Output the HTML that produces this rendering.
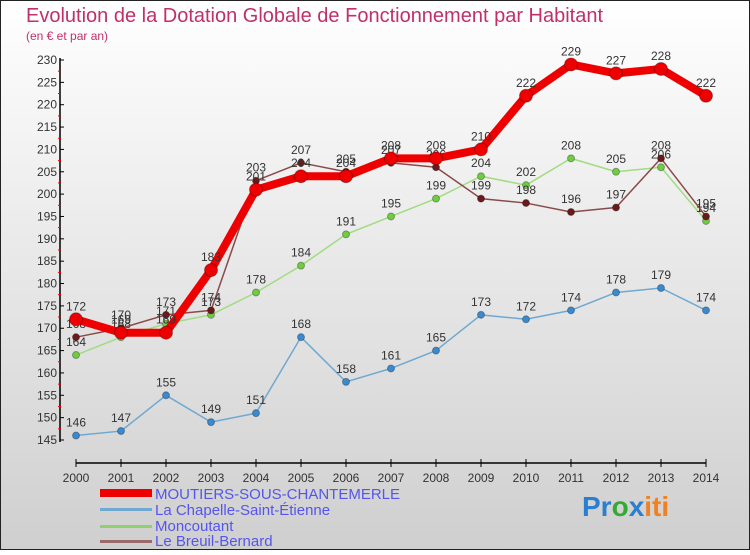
<!DOCTYPE html>
<html><head><meta charset="utf-8"><style>
body{margin:0;width:750px;height:550px;overflow:hidden;font-family:"Liberation Sans",sans-serif}
svg text{font-family:"Liberation Sans",sans-serif}
</style></head><body>
<svg id="c" width="750" height="550" xmlns="http://www.w3.org/2000/svg">
<defs><linearGradient id="bg" x1="0" y1="0" x2="0" y2="1"><stop offset="0" stop-color="#ffffff"/><stop offset="1" stop-color="#cfcfcf"/></linearGradient></defs>
<rect x="0.5" y="0.5" width="749" height="549" fill="url(#bg)" stroke="#222"/>
<text x="26" y="22" font-size="20" fill="#c0306a">Evolution de la Dotation Globale de Fonctionnement par Habitant</text>
<text x="26" y="40" font-size="12" fill="#c0306a">(en € et par an)</text>
<g id="axes"></g><g id="series"></g>
<g>
<rect x="100" y="489" width="52" height="8" fill="#ee0000"/>
<text x="155" y="499" font-size="15" fill="#5555ee">MOUTIERS-SOUS-CHANTEMERLE</text>
<rect x="100" y="508" width="52" height="3" fill="#6fa8d0"/>
<text x="155" y="515" font-size="15" fill="#5555ee">La Chapelle-Saint-Étienne</text>
<rect x="100" y="525" width="52" height="3" fill="#90d070"/>
<text x="155" y="531" font-size="15" fill="#5555ee">Moncoutant</text>
<rect x="100" y="540" width="52" height="3" fill="#9a6a6a"/>
<text x="155" y="546" font-size="15" fill="#5555ee">Le Breuil-Bernard</text>
</g>
<text x="582" y="516" font-size="28" font-weight="bold"><tspan fill="#2a7fd0">Pr</tspan><tspan fill="#3a3">o</tspan><tspan fill="#2a7fd0">x</tspan><tspan fill="#f08020">iti</tspan></text>
</svg>
<script>
const years=[2000,2001,2002,2003,2004,2005,2006,2007,2008,2009,2010,2011,2012,2013,2014];
const moutiers=[172,169,169,183,201,204,204,208,208,210,222,229,227,228,222];
const chapelle=[146,147,155,149,151,168,158,161,165,173,172,174,178,179,174];
const moncoutant=[164,168,171,173,178,184,191,195,199,204,202,208,205,206,194];
const breuil=[168,170,173,174,203,207,205,207,206,199,198,196,197,208,195];
const yTicks=[145,150,155,160,165,170,175,180,185,190,195,200,205,210,215,220,225,230];
const NS="http://www.w3.org/2000/svg";
const x=i=>76+i*45, y=v=>440-(v-145)*(380/85);
function mk(t,a,p){const e=document.createElementNS(NS,t);for(const k in a)e.setAttribute(k,a[k]);p.appendChild(e);return e;}
const ax=document.getElementById('axes');
let l=mk('line',{x1:60,y1:58,x2:60,y2:442,stroke:'#000','stroke-width':1.5},ax);


l=mk('line',{x1:76,y1:463,x2:706,y2:463,stroke:'#000','stroke-width':1.5},ax);


yTicks.forEach(v=>{mk('line',{x1:60,y1:y(v),x2:64,y2:y(v),stroke:'#000'},ax);
 if(v<230)mk('line',{x1:58,y1:y(v+2.5),x2:61,y2:y(v+2.5),stroke:'#e00'},ax);
 const t=mk('text',{x:57,y:y(v)+4,'font-size':12,fill:'#333','text-anchor':'end'},ax);t.textContent=v;
 
 });
years.forEach((yr,i)=>{mk('line',{x1:x(i),y1:459,x2:x(i),y2:467,stroke:'#000'},ax);
 const t=mk('text',{x:x(i),y:482,'font-size':12,fill:'#333','text-anchor':'middle'},ax);t.textContent=yr;
 
 });
const sg=document.getElementById('series');
function draw(d,name,line,dot,w,r){
 const g=mk('g',{},sg);
 
 
 mk('polyline',{points:d.map((v,i)=>x(i)+','+y(v)).join(' '),fill:'none',stroke:line,'stroke-width':w,'stroke-linejoin':'round'},g);
 d.forEach((v,i)=>{const c=mk('circle',{cx:x(i),cy:y(v),r:r,fill:dot,stroke:'rgba(0,0,0,0.3)'},g);
  
  
  const t=mk('text',{x:x(i),y:y(v)-9,'font-size':12,fill:'#333','text-anchor':'middle'},g);t.textContent=v;});
}
draw(chapelle,'chapelle','#6fa8d0','#3a8ad0',1.5,3.5);
draw(moncoutant,'moncoutant','#a0dc80','#70cc40',1.5,3.5);
draw(breuil,'breuil','#8a4a4a','#6a1a1a',1.5,3.5);
draw(moutiers,'moutiers','#ee0000','#ee0000',8,6.5);
</script>
</body></html>
